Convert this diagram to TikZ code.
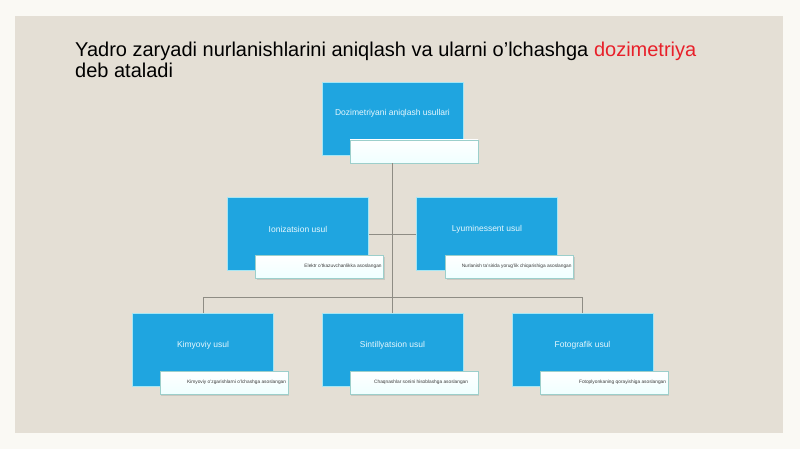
\documentclass[tikz,border=0pt]{standalone}
\usepackage{fontspec}
\setmainfont{Liberation Sans}
\usetikzlibrary{shadows}
\definecolor{bgout}{HTML}{FAF9F4}
\definecolor{slide}{HTML}{E4DFD5}
\definecolor{boxblue}{HTML}{1FA5E0}
\definecolor{boxedge}{HTML}{A6E6F4}
\definecolor{linegray}{HTML}{8E8C84}
\definecolor{dozred}{HTML}{E8202A}
\definecolor{subedge}{HTML}{9CCFCB}
\definecolor{subtext}{HTML}{3A3A3A}
\begin{document}
\begin{tikzpicture}[x=1pt,y=-1pt,
  bluebox/.style={draw=boxedge, line width=0.8pt, fill=boxblue, minimum width=141pt, minimum height=73pt, inner sep=0pt},
  bluetext/.style={text=white!90!cyan, font=\fontsize{8.5}{10}\selectfont, inner sep=0pt},
  subbox/.style={draw=subedge, line width=0.6pt, top color=white, bottom color=cyan!6!white, minimum width=128pt, minimum height=23pt, inner sep=0pt, drop shadow={shadow xshift=1pt, shadow yshift=-1.5pt, opacity=0.25}},
  subtxt/.style={text=subtext, font=\fontsize{4.8}{5.5}\selectfont, inner sep=0pt, anchor=east},
  conn/.style={draw=linegray, line width=0.8pt},
  titletext/.style={font=\fontsize{20}{21}\selectfont, inner sep=0pt, align=left, anchor=north west}
]
\useasboundingbox (0,0) rectangle (800,449);
\fill[bgout] (0,0) rectangle (800,449);
\fill[slide] (15,16) rectangle (783,433);

\node[titletext] (title) at (75,42) {Yadro zaryadi nurlanishlarini aniqlash va ularni o'lchashga \textcolor{dozred}{dozimetriya}\\deb ataladi};

% level 1
\node[bluebox] (b1) at (392.5,118.5) {};
\node[bluetext] (t1) at (392.5,113.5) {Dozimetriyani aniqlash usullari};
\node[subbox] (s1) at (414,151.5) {};

% level 2
\node[bluebox] (b2a) at (298,234) {};
\node[bluetext] (t2a) at (298,229.5) {Ionizatsion usul};
\node[subbox] (s2a) at (319.5,266.5) {};
\node[subtxt] (u2a) at ([xshift=-2pt]s2a.east) {Elektr o'tkazuvchanlikka asoslangan};

\node[bluebox] (b2b) at (487,234) {};
\node[bluetext] (t2b) at (487,229.5) {Lyuminessent usul};
\node[subbox] (s2b) at (509.5,266.5) {};
\node[subtxt] (u2b) at ([xshift=-2pt]s2b.east) {Nurlanish ta'sirida yorug'lik chiqarishiga asoslangan};

% level 3
\node[bluebox] (b3a) at (203,350) {};
\node[bluetext] (t3a) at (203,345.5) {Kimyoviy usul};
\node[subbox] (s3a) at (224,382.5) {};
\node[subtxt] (u3a) at ([xshift=-2pt]s3a.east) {Kimyoviy o'zgarishlarni o'lchashga asoslangan};

\node[bluebox] (b3b) at (392.5,350) {};
\node[bluetext] (t3b) at (392.5,345.5) {Sintillyatsion usul};
\node[subbox] (s3b) at (414,382.5) {};
\node[subtxt] (u3b) at ([xshift=-10pt]s3b.east) {Chaqnashlar sonini hisoblashga asoslangan};

\node[bluebox] (b3c) at (582.5,350) {};
\node[bluetext] (t3c) at (582.5,345.5) {Fotografik usul};
\node[subbox] (s3c) at (604,382.5) {};
\node[subtxt] (u3c) at ([xshift=-2pt]s3c.east) {Fotoplyonkaning qorayishiga asoslangan};

% connectors
\coordinate (hub) at (392.5,297);
\path[conn] (b1.center |- s1.south) -- (hub);
\path[conn] (b2a.east) -- (b2b.west);
\path[conn] (b3a.north |- hub) -- (b3c.north |- hub);
\path[conn] (b3a.north |- hub) -- (b3a.north);
\path[conn] (hub) -- (b3b.north);
\path[conn] (b3c.north |- hub) -- (b3c.north);
\end{tikzpicture}
\end{document}
